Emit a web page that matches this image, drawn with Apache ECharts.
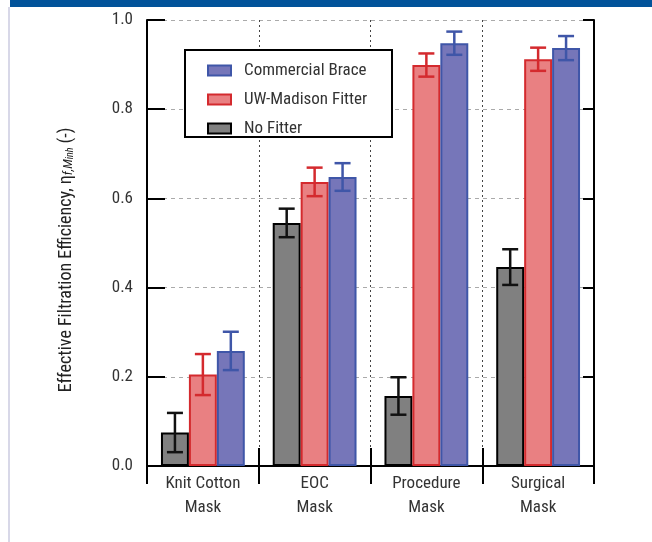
<!DOCTYPE html>
<html>
<head>
<meta charset="utf-8">
<script src="https://cdn.jsdelivr.net/npm/echarts@6/dist/echarts.min.js"></script>
<style>html,body{margin:0;padding:0;background:#fff;}#c{width:652px;height:542px;}</style>
</head>
<body>
<div id="c"></div>
<script>
var categories = ['Knit Cotton\nMask', 'EOC\nMask', 'Procedure\nMask', 'Surgical\nMask'];
var yTicks = [0, 0.2, 0.4, 0.6, 0.8, 1.0];
var noFitter = [0.075, 0.545, 0.157, 0.446];
var noFitterErr = [0.044, 0.032, 0.042, 0.040];
var uwFitter = [0.205, 0.637, 0.899, 0.912];
var uwFitterErr = [0.046, 0.032, 0.026, 0.026];
var brace = [0.258, 0.648, 0.948, 0.937];
var braceErr = [0.043, 0.031, 0.026, 0.027];

var FONT = "'Liberation Sans Narrow', 'Roboto Condensed', 'DejaVu Sans Condensed', sans-serif";
var chart = echarts.init(document.getElementById('c'));

function errData(vals, errs) {
  return vals.map(function (v, i) { return [i, v - errs[i], v + errs[i]]; });
}
function errSeries(name, vals, errs, color, k) {
  return {
    type: 'custom', name: name, z: 5, silent: true,
    encode: { x: 0, y: [1, 2] },
    data: errData(vals, errs),
    renderItem: function (params, api) {
      var x = api.value(0);
      var lo = api.coord([x, api.value(1)]);
      var hi = api.coord([x, api.value(2)]);
      var band = api.size([1, 0])[0];
      var cx = lo[0] + k * band * 0.25;
      var hw = 8;
      var st = { stroke: color, lineWidth: 2.5 };
      return {
        type: 'group', children: [
          { type: 'line', shape: { x1: cx, y1: lo[1], x2: cx, y2: hi[1] }, style: st },
          { type: 'line', shape: { x1: cx - hw, y1: lo[1], x2: cx + hw, y2: lo[1] }, style: st },
          { type: 'line', shape: { x1: cx - hw, y1: hi[1], x2: cx + hw, y2: hi[1] }, style: st }
        ]
      };
    }
  };
}

var option = {
  animation: false,
  textStyle: { fontFamily: FONT },
  grid: { left: 147, right: 58, top: 20, bottom: 76, show: false },
  graphic: [
    { type: 'rect', shape: { x: 10, y: 0, width: 642, height: 7 }, style: { fill: '#02539a' }, z: 0 },
    { type: 'rect', shape: { x: 8, y: 7, width: 2, height: 535 }, style: { fill: '#d8d8e8' }, z: 0 },
    { type: 'rect', shape: { x: 185, y: 50, width: 207, height: 87 }, style: { fill: '#fff', stroke: '#000', lineWidth: 2 }, z: 8 }
  ],
  legend: {
    orient: 'vertical', left: 207, top: 62, z: 10, padding: 0,
    icon: 'rect',
    data: ['Commercial Brace', 'UW-Madison Fitter', 'No Fitter'],
    itemWidth: 23, itemHeight: 10, itemGap: 12,
    itemStyle: { borderWidth: 2 },
    textStyle: { fontFamily: FONT, fontSize: 17, lineHeight: 17, color: '#333', padding: [0, 0, 0, 8] },
    selectedMode: false
  },
  xAxis: [
    {
      type: 'category', data: categories, position: 'bottom',
      axisLine: { show: true, lineStyle: { color: '#000', width: 2 } },
      axisTick: { show: true, inside: true, length: 18, lineStyle: { color: '#000', width: 2 } },
      axisLabel: { fontFamily: FONT, fontSize: 17, lineHeight: 24, color: '#333', margin: 6 },
      splitLine: { show: true, lineStyle: { color: '#444', type: [2, 3], width: 1 } }
    },
    {
      type: 'category', data: categories, position: 'top',
      axisLine: { show: true, lineStyle: { color: '#000', width: 2 } },
      axisTick: { show: true, inside: true, length: 18, lineStyle: { color: '#000', width: 2 } },
      axisLabel: { show: false }, splitLine: { show: false }
    }
  ],
  yAxis: [
    {
      type: 'value', min: 0, max: 1, interval: 0.2, position: 'left',
      name: 'Effective Filtration Efficiency, η{sub|f,M}{sub2|inh} (-)',
      nameLocation: 'middle', nameGap: 72,
      nameTextStyle: {
        fontFamily: FONT, fontSize: 18, color: '#222', padding: [0, 34, 0, 0],
        rich: {
          sub: { fontFamily: FONT, fontSize: 13, fontStyle: 'italic', color: '#222', verticalAlign: 'bottom', lineHeight: 10 },
          sub2: { fontFamily: FONT, fontSize: 10, fontStyle: 'italic', color: '#222', verticalAlign: 'bottom', lineHeight: 4 }
        }
      },
      axisLine: { show: true, lineStyle: { color: '#000', width: 2 } },
      axisTick: { show: true, inside: true, length: 18, lineStyle: { color: '#000', width: 2 } },
      axisLabel: { fontFamily: FONT, fontSize: 17, color: '#333', margin: 14, formatter: function (v) { return v.toFixed(1); } },
      splitLine: { show: true, lineStyle: { color: '#aaa', type: [4, 4], width: 1 } }
    },
    {
      type: 'value', min: 0, max: 1, interval: 0.2, position: 'right',
      axisLine: { show: true, lineStyle: { color: '#000', width: 2 } },
      axisTick: { show: true, inside: true, length: 11, lineStyle: { color: '#000', width: 2 } },
      axisLabel: { show: false }, splitLine: { show: false }
    }
  ],
  series: [
    {
      type: 'bar', name: 'No Fitter', data: noFitter, barGap: '0%', barCategoryGap: '25%',
      itemStyle: { color: '#808080', borderColor: '#000', borderWidth: 2 }
    },
    {
      type: 'bar', name: 'UW-Madison Fitter', data: uwFitter, barGap: '0%', barCategoryGap: '25%',
      itemStyle: { color: '#e98082', borderColor: '#d42a2e', borderWidth: 2 }
    },
    {
      type: 'bar', name: 'Commercial Brace', data: brace, barGap: '0%', barCategoryGap: '25%',
      itemStyle: { color: '#7676b9', borderColor: '#3f56a8', borderWidth: 2 }
    },
    errSeries('No Fitter err', noFitter, noFitterErr, '#111', -1),
    errSeries('UW-Madison Fitter err', uwFitter, uwFitterErr, '#d42a2e', 0),
    errSeries('Commercial Brace err', brace, braceErr, '#3f56a8', 1)
  ]
};
chart.setOption(option);
</script>
</body>
</html>
